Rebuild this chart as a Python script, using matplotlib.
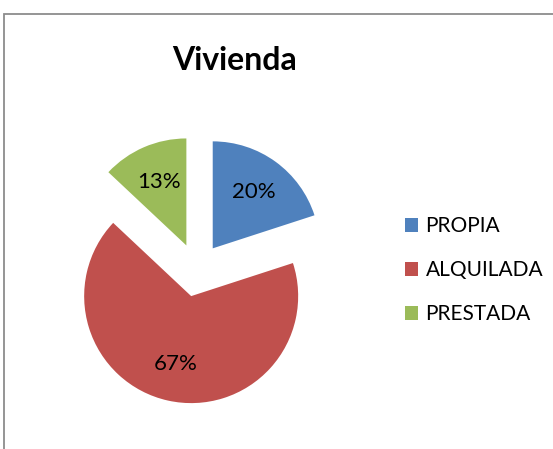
import matplotlib.pyplot as plt
from matplotlib.patches import Rectangle, Patch

# datos del grafico
categorias = ['PROPIA', 'ALQUILADA', 'PRESTADA']
valores = [20, 67, 13]
colores = ['#4F81BD', '#C0504D', '#9BBB59']

plt.rcParams['font.family'] = ['Lato', 'DejaVu Sans']

fig = plt.figure(figsize=(5.53, 4.49), dpi=100)

# borde del area del grafico (recortado a la derecha y abajo)
fig.patches.append(Rectangle((4 / 553, -0.1), 1.2, 1 - 14 / 449 + 0.1,
                             transform=fig.transFigure, fill=False,
                             edgecolor='#8c8c8c', linewidth=1.3))

ax = fig.add_axes([36.5 / 553, 18.5 / 449, 321 / 553, 321 / 449])
wedges, textos, pcts = ax.pie(valores, colors=colores, startangle=90, counterclock=False,
                              explode=[0.25] * len(valores), autopct='%1.0f%%',
                              pctdistance=0.65, radius=1,
                              textprops={'fontsize': 16, 'color': 'black'})
ax.set_xlim(-1.5, 1.5)
ax.set_ylim(-1.5, 1.5)
ax.set_aspect('equal')
ax.axis('off')

fig.text(235 / 553, 1 - 60 / 449, 'Vivienda', ha='center', va='center',
         fontsize=23, fontweight='bold')

handles = [Patch(facecolor=c, edgecolor='none') for c in colores]
fig.legend(handles, categorias, loc='center left', bbox_to_anchor=(386 / 553, 1 - 270 / 449),
           frameon=False, fontsize=15, handlelength=0.65, handleheight=0.65,
           handletextpad=0.35, labelspacing=1.15)

fig.savefig('out.png', dpi=100)
